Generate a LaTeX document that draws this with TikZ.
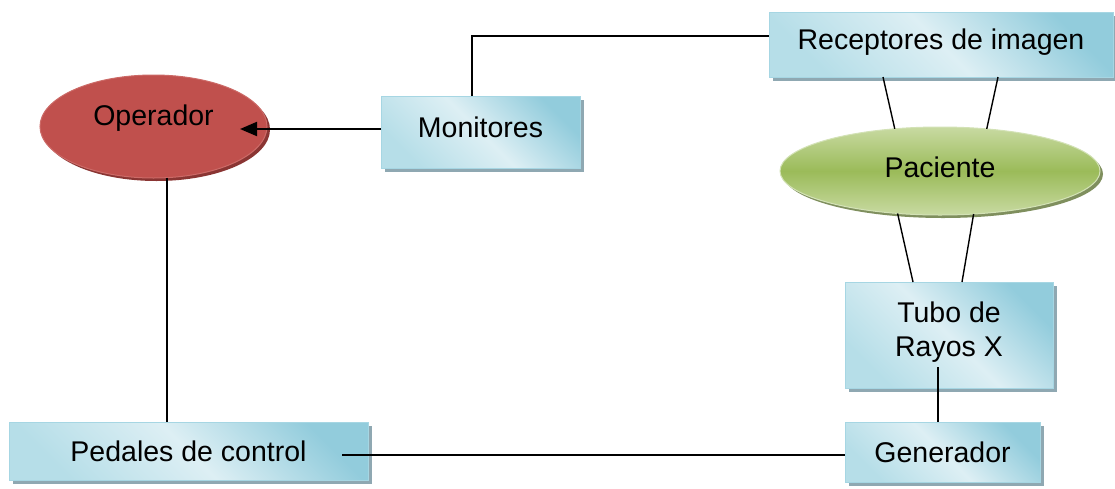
\documentclass[tikz,border=0pt]{standalone}
\usepackage{fontspec}
\setmainfont{Liberation Sans}
\usetikzlibrary{shapes.geometric,shadows,arrows.meta}
\definecolor{boxdark}{HTML}{92CCDC}
\definecolor{boxlight}{HTML}{DDEFF4}
\definecolor{boxmid}{HTML}{B6DEE8}
\definecolor{boxedge}{HTML}{A6D6E3}
\definecolor{boxshadow}{HTML}{8FA8B2}
\definecolor{opfill}{HTML}{C0504D}
\definecolor{opedge}{HTML}{CC6A67}
\definecolor{opshadow}{HTML}{8A3533}
\definecolor{pacmid}{HTML}{9BBB59}
\definecolor{paclight}{HTML}{C8DAA2}
\definecolor{pacedge}{HTML}{D3E2B6}
\definecolor{pacshadow}{HTML}{7F8F5E}
\begin{document}
\begin{tikzpicture}[x=1pt,y=1pt,
  txt/.style={font=\fontsize{28.5}{34}\selectfont, align=center, inner sep=0pt, outer sep=0pt},
  box/.style={txt, rectangle, draw=boxedge, line width=1pt,
    top color=boxdark, bottom color=boxmid, middle color=boxlight, shading angle=-45,
    drop shadow={shadow xshift=4pt, shadow yshift=-4pt, fill=boxshadow, opacity=1}},
  redoval/.style={txt, ellipse, draw=opedge, line width=1pt, fill=opfill,
    drop shadow={shadow xshift=3pt, shadow yshift=-3pt, fill=opshadow, opacity=1}},
  greenoval/.style={txt, ellipse, draw=pacedge, line width=1pt,
    top color=paclight, bottom color=paclight, middle color=pacmid,
    drop shadow={shadow xshift=3pt, shadow yshift=-3pt, fill=pacshadow, opacity=1}},
  conn/.style={draw=black, line width=1.4pt},
  arrowline/.style={draw=black, line width=2pt, -{Triangle[length=17pt,width=14pt]}}]
\useasboundingbox (0,0) rectangle (1115,-488);

\node[redoval, minimum width=227, minimum height=103, text depth=22pt] (op) at (153.5,-126.5) {Operador};
\node[box, minimum width=199, minimum height=72, text depth=10pt] (mon) at (480.5,-132) {Monitores};
\node[box, minimum width=344, minimum height=65, text depth=11pt] (rec) at (941,-44.5) {Receptores de imagen};
\node[greenoval, minimum width=320, minimum height=88, text depth=8pt] (pac) at (940,-171) {Paciente};
\node[box, minimum width=208, minimum height=106, text depth=12pt] (tubo) at (949,-335) {Tubo de\\Rayos X};
\node[box, minimum width=195, minimum height=60] (gen) at (942.5,-452) {Generador};
\node[box, minimum width=359, minimum height=58] (ped) at (188.5,-451) {Pedales de control};

\coordinate (optip) at (240,-129);
\draw[arrowline] (mon.west |- optip) -- (optip);

\coordinate (bend) at (472,-36);
\draw[conn] (bend |- mon.north) -- (bend) -- (bend -| rec.west);

\draw[conn] ([xshift=-58pt]rec.south) -- (pac.137.5);
\draw[conn] ([xshift=57pt]rec.south) -- (pac.42.5);
\draw[conn] (pac.225.3) -- ([xshift=-36pt]tubo.north);
\draw[conn] (pac.308.3) -- ([xshift=13pt]tubo.north);

\coordinate (tg) at (938,-367);
\draw[conn] (tg) -- (tg |- gen.north);

\draw[conn] (op.285.8) -- (op.285.8 |- ped.north);

\coordinate (pr) at (342,-455);
\draw[conn] (pr) -- (pr -| gen.west);
\end{tikzpicture}
\end{document}
